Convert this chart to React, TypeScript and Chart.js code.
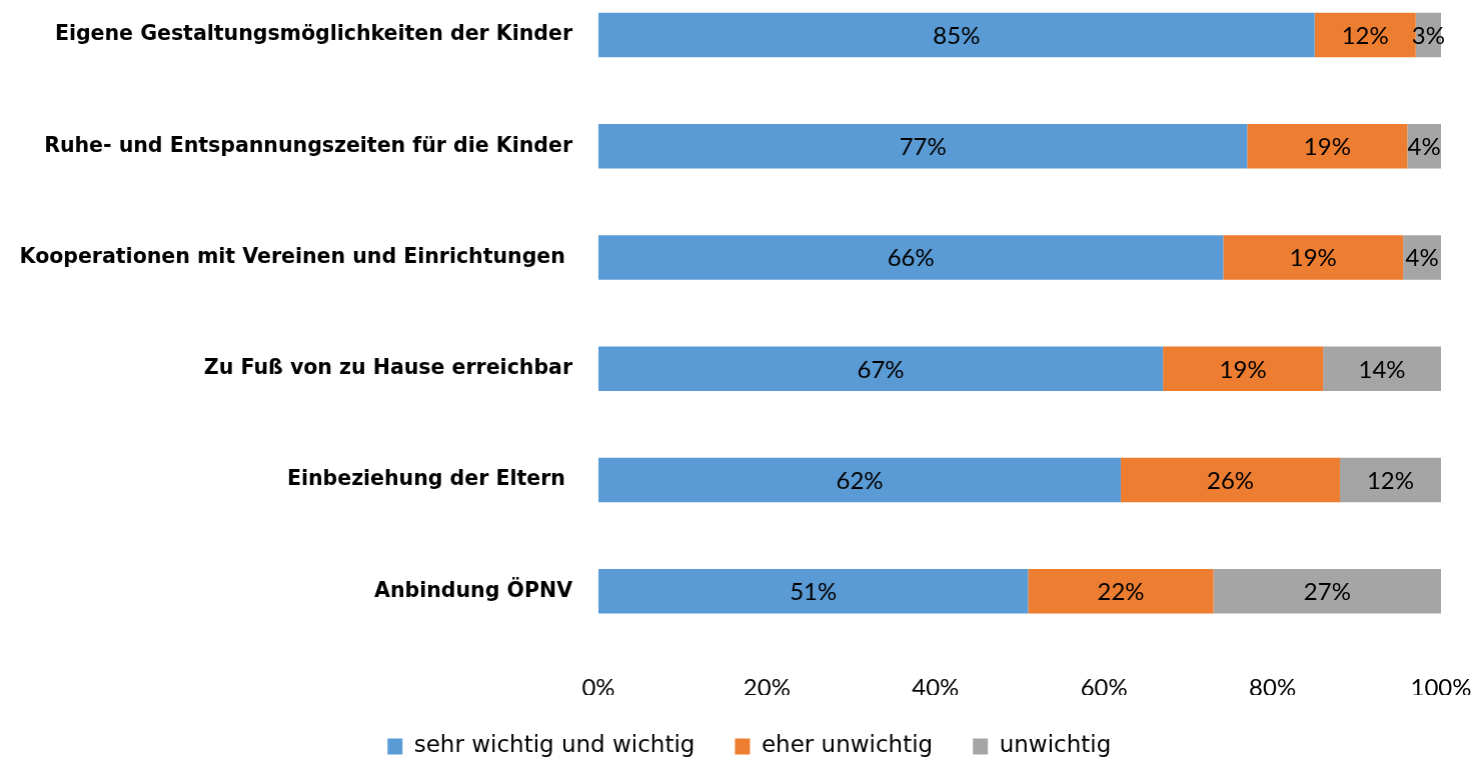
import React, { useEffect, useRef } from "react";
import { Chart, registerables } from "chart.js";

Chart.register(...registerables);

const categories = [
  "Eigene Gestaltungsmöglichkeiten der Kinder",
  "Ruhe- und Entspannungszeiten für die Kinder",
  "Kooperationen mit Vereinen und Einrichtungen ",
  "Zu Fuß von zu Hause erreichbar",
  "Einbeziehung der Eltern ",
  "Anbindung ÖPNV",
];
const seriesNames = ["sehr wichtig und wichtig", "eher unwichtig", "unwichtig"];
const sehrWichtig = [85, 77, 66, 67, 62, 51];
const eherUnwichtig = [12, 19, 19, 19, 26, 22];
const unwichtig = [3, 4, 4, 14, 12, 27];
const colors = ["#5B9BD5", "#ED7D31", "#A5A5A5"];
const xTicks = [0, 20, 40, 60, 80, 100];

const FONT = "Lato";
const WIDE = "'DejaVu Sans'";

const rawSeries = [sehrWichtig, eherUnwichtig, unwichtig];
const rowSums = categories.map((_, i) => rawSeries.reduce((s, arr) => s + arr[i], 0));

const labelPlugin = {
  id: "segLabels",
  afterDatasetsDraw(chart: any) {
    const ctx = chart.ctx;
    ctx.save();
    ctx.font = `24px ${FONT}`;
    ctx.fillStyle = "#000000";
    ctx.textAlign = "center";
    ctx.textBaseline = "middle";
    chart.data.datasets.forEach((ds: any, di: number) => {
      const meta = chart.getDatasetMeta(di);
      meta.data.forEach((bar: any, i: number) => {
        const raw = ds.rawValues[i];
        const cx = (bar.x + bar.base) / 2;
        ctx.fillText(raw + "%", cx, bar.y + 1);
      });
    });
    ctx.restore();
  },
};

export default function App() {
  const ref = useRef<HTMLCanvasElement>(null);
  useEffect(() => {
    if (!ref.current) return;
    Chart.defaults.font.family = FONT;
    const chart = new Chart(ref.current, {
      type: "bar",
      data: {
        labels: categories,
        datasets: rawSeries.map((arr, si) => ({
          label: seriesNames[si],
          data: arr.map((v, i) => (v / rowSums[i]) * 100),
          rawValues: arr,
          backgroundColor: colors[si],
          borderWidth: 0,
          barPercentage: 0.8,
          categoryPercentage: 0.5,
        })) as any,
      },
      options: {
        indexAxis: "y",
        animation: false,
        responsive: true,
        maintainAspectRatio: false,
        layout: { padding: { left: 0, right: 0, top: 0, bottom: 0 } },
        scales: {
          x: {
            stacked: true,
            min: 0,
            max: 100,
            afterBuildTicks: (scale: any) => {
              scale.ticks = xTicks.map((v) => ({ value: v }));
            },
            afterFit: (scale: any) => {
              scale.height = 48;
            },
            grid: { display: false, drawTicks: false },
            border: { display: false },
            ticks: {
              padding: 27,
              color: "#000000",
              font: { size: 24, family: FONT },
              maxRotation: 0,
              callback: (v: any) => v + "%",
            },
          },
          y: {
            stacked: true,
            afterFit: (scale: any) => {
              scale.width = 598;
            },
            grid: { display: false, drawTicks: false },
            border: { display: false },
            ticks: {
              padding: 26,
              color: "#000000",
              font: { size: 20.5, weight: "bold", family: WIDE },
            },
          },
        },
        plugins: {
          tooltip: { enabled: false },
          legend: {
            position: "bottom",
            labels: {
              boxWidth: 15,
              boxHeight: 16,
              padding: 40,
              color: "#000000",
              font: { size: 23, family: WIDE },
            },
          },
        },
      },
      plugins: [labelPlugin],
    });
    return () => chart.destroy();
  }, []);
  return (
    <div
      style={{
        position: "fixed",
        left: 0,
        top: 0,
        width: 1472,
        height: 758,
        overflow: "hidden",
        background: "#fff",
      }}
    >
      <div style={{ position: "absolute", left: 0, top: -59, width: 1497.5, height: 827 }}>
        <canvas ref={ref} />
      </div>
    </div>
  );
}
